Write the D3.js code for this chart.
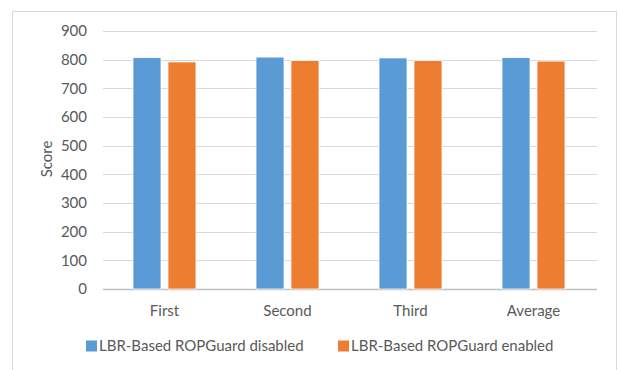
<!DOCTYPE html>
<html>
<head>
<meta charset="utf-8">
<script src="https://cdn.jsdelivr.net/npm/d3@7"></script>
<style>
  body { margin: 0; background: #fff; }
  svg text { font-family: Lato, "Open Sans", sans-serif; fill: #595959; font-size: 15px; }
</style>
</head>
<body>
<div id="chart"></div>
<script>
// chart data
const categories = ['First', 'Second', 'Third', 'Average'];
const seriesNames = ['LBR-Based ROPGuard disabled', 'LBR-Based ROPGuard enabled'];
const disabledScores = [807, 809, 806, 807];
const enabledScores = [792, 797, 797, 795];
const yTicks = [0, 100, 200, 300, 400, 500, 600, 700, 800, 900];
const colors = ['#5b9bd5', '#ed7d31'];

const width = 618, height = 370;
const margin = { top: 31, right: 23, bottom: 81, left: 103 };

const svg = d3.select('#chart').append('svg')
    .attr('width', width)
    .attr('height', height);

// outer chart border
svg.append('rect')
    .attr('x', 12.5).attr('y', 11.5)
    .attr('width', 604).attr('height', 400)
    .attr('fill', 'none')
    .attr('stroke', '#d9d9d9');

const y = d3.scaleLinear()
    .domain([0, 900])
    .range([height - margin.bottom, margin.top]);

const x0 = d3.scaleBand()
    .domain(categories)
    .range([margin.left, width - margin.right])
    .paddingInner(0.488)
    .paddingOuter(0.244);

const x1 = d3.scaleBand()
    .domain([0, 1])
    .range([0, x0.bandwidth()])
    .paddingInner(0.2);

// gridlines
svg.append('g')
    .selectAll('line')
    .data(yTicks)
    .join('line')
    .attr('x1', margin.left)
    .attr('x2', width - margin.right + 2)
    .attr('y1', d => Math.round(y(d)) + 0.5)
    .attr('y2', d => Math.round(y(d)) + 0.5)
    .attr('stroke', d => d === 0 ? '#bfbfbf' : '#d9d9d9')
    .attr('stroke-width', d => d === 0 ? 1.5 : 1);

// y tick labels
svg.append('g')
    .selectAll('text')
    .data(yTicks)
    .join('text')
    .attr('x', 87)
    .attr('y', d => y(d))
    .attr('dy', '0.35em')
    .attr('text-anchor', 'end')
    .text(d => d);

// bars
const rows = categories.map((c, i) => ({ cat: c, values: [disabledScores[i], enabledScores[i]] }));

svg.append('g')
    .selectAll('g')
    .data(rows)
    .join('g')
    .attr('transform', d => `translate(${x0(d.cat)},0)`)
    .selectAll('rect')
    .data(d => d.values.map((v, k) => ({ k, v })))
    .join('rect')
    .attr('x', d => x1(d.k))
    .attr('y', d => y(d.v))
    .attr('width', x1.bandwidth())
    .attr('height', d => y(0) - y(d.v))
    .attr('fill', d => colors[d.k])
    .attr('stroke', '#fff')
    .attr('stroke-width', 0.75);

// category labels
svg.append('g')
    .selectAll('text')
    .data(categories)
    .join('text')
    .attr('x', d => x0(d) + x0.bandwidth() / 2)
    .attr('y', 311)
    .attr('dy', '0.35em')
    .attr('text-anchor', 'middle')
    .text(d => d);

// y axis title
svg.append('text')
    .attr('transform', 'translate(47,159) rotate(-90)')
    .attr('text-anchor', 'middle')
    .attr('dy', '0.35em')
    .text('Score');

// legend
const legendX = [86, 338];
const legend = svg.append('g')
    .selectAll('g')
    .data(seriesNames)
    .join('g')
    .attr('transform', (d, i) => `translate(${legendX[i]},346)`);

legend.append('rect')
    .attr('x', 0).attr('y', -5.5)
    .attr('width', 11).attr('height', 11)
    .attr('fill', (d, i) => colors[i]);

legend.append('text')
    .attr('x', 13)
    .attr('dy', '0.35em')
    .text(d => d);
</script>
</body>
</html>
